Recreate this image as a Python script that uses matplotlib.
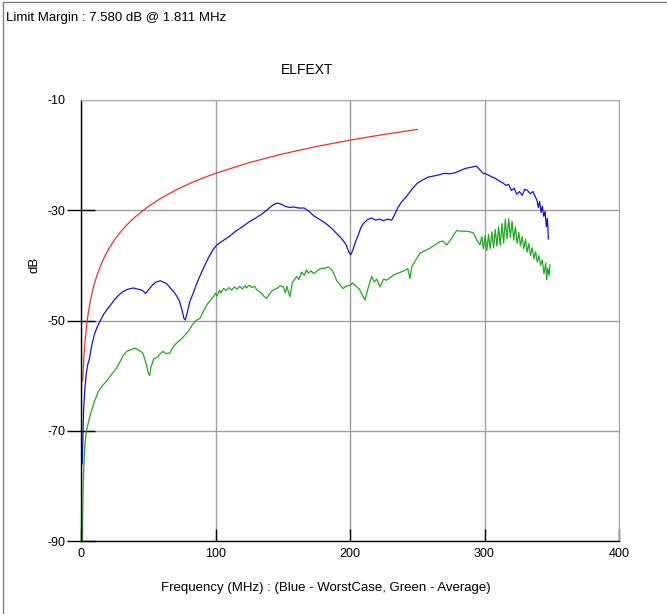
import matplotlib
matplotlib.use("Agg")
import matplotlib.pyplot as plt
from matplotlib.lines import Line2D

plt.rcParams['font.family'] = ['Liberation Sans', 'DejaVu Sans']
plt.rcParams['axes.unicode_minus'] = False

# Limit line (red)
limit_f = [1.3, 1.6, 2, 2.5, 3, 4, 5, 6, 7, 8.5, 10, 12, 15, 18, 20, 25, 30, 35, 40, 50,
           60, 70, 80, 90, 100, 125, 150, 175, 200, 225, 250]
limit_db = [-61.0, -59.2, -57.28, -55.34, -53.76, -51.26, -49.32, -47.74, -46.40,
            -44.71, -43.3, -41.72, -39.78, -38.19, -37.28, -35.34, -33.76, -32.42, -31.26,
            -29.32, -27.74, -26.40, -25.24, -24.22, -23.3, -21.36, -19.78, -18.44, -17.28,
            -16.26, -15.34]

# WorstCase (blue)
worst_f = [1.0, 1.5, 2, 3, 4, 5, 6.2, 8, 10, 12, 14, 17, 20, 22, 25, 28, 31, 34, 37, 39, 42,
           44, 46, 48, 50, 53, 56, 59, 62, 64, 66, 69, 71, 73, 75, 76.5, 77.5, 79, 81, 83.5,
           86, 89, 92, 95, 98, 101, 105, 110, 115, 120, 125, 130, 135, 140, 143, 146, 149,
           152, 155, 158, 162, 166, 170, 173, 177, 182, 186, 190, 194, 197, 199, 200.5, 202,
           204, 206, 208, 210, 213, 216, 219, 222, 225, 228, 231, 233, 235, 238, 242, 246,
           250, 254, 258, 262, 266, 270, 274, 278, 282, 286, 290, 294, 296, 299, 302, 305,
           308, 311, 314, 316, 318, 320, 322, 324, 326, 328, 330, 332, 334, 336, 337.5, 339,
           340, 341, 342, 343, 344, 345, 346, 346.8, 347.5]
worst_db = [-76, -70, -66, -62, -59.5, -58, -57, -54.5, -52.5, -51.2, -50.2, -48.8, -47.8,
            -47.2, -46.2, -45.4, -44.8, -44.4, -44.2, -44.1, -44.3, -44.4, -44.6, -45.1, -44.5,
            -43.6, -43.0, -42.8, -43.1, -43.4, -44.0, -44.8, -45.5, -46.4, -48.0, -49.6, -49.9,
            -48.6, -46.5, -45.0, -43.3, -41.6, -40.0, -38.5, -37.2, -36.3, -35.6, -34.8, -33.8,
            -33.0, -32.1, -31.4, -30.6, -29.6, -29.0, -28.7, -28.9, -29.3, -29.5, -29.4, -29.6,
            -29.6, -30.3, -31.0, -31.6, -32.4, -33.2, -34.2, -35.2, -36.2, -37.5, -38.1, -37.3,
            -35.8, -34.6, -33.2, -32.4, -31.7, -31.4, -31.8, -31.6, -31.9, -31.6, -31.8, -30.9,
            -29.8, -28.6, -27.5, -26.2, -25.1, -24.5, -24.0, -23.8, -23.6, -23.3, -23.4, -23.2,
            -22.8, -22.4, -22.2, -22.0, -22.5, -23.3, -23.5, -23.9, -24.2, -24.7, -25.1, -25.5,
            -25.3, -26.4, -26.0, -27.1, -26.6, -27.3, -26.2, -26.4, -27.0, -26.6, -27.4, -28.2,
            -29.5, -28.4, -30.4, -29.3, -31.1, -30.2, -33.0, -31.5, -35.2]

# Average (green)
avg_f = [1.0, 1.5, 2, 3, 4, 5.4, 7, 8, 10.4, 13, 16, 19, 22, 26, 29, 31.5, 34, 37, 40, 43, 46,
         48, 50, 51, 52, 54, 57, 59, 61, 63, 66, 68, 71, 74, 76, 78.6, 81, 83, 86, 88.5, 91, 94,
         96, 98.4, 100, 101, 103, 104, 106, 108, 110, 112, 114, 116, 118, 120, 122, 123, 125,
         127, 129, 130.6, 134, 136, 138, 140, 142,
         145.5, 148, 150.4, 152, 153, 155.4, 157, 160.3, 162, 164, 166, 167.7, 169, 171, 173,
         175, 178, 181.4, 184,
         186.4, 188, 190, 192.5, 195, 197, 200, 202, 205, 207, 208.6, 211.2, 213, 216.1, 218,
         220, 222.3, 225, 227.2, 230, 232, 234.7, 237, 240, 243, 244.5, 246, 249, 252, 256,
         259.5, 263, 266.9, 269, 271.9, 274, 275.6, 277.5, 279.3, 283, 286.7, 289, 291.7, 293,
         294.2, 296.7, 298, 299.2, 300.5, 301.7, 303, 304.2, 305.5, 306.7, 308, 309.2, 310.5,
         311.7, 313, 314.2, 315.5, 316.7, 318, 319.2, 320.5, 321.7, 323, 324.2, 325.5, 326.7,
         328, 329.2, 330.5, 331.7, 333, 334.2, 335.5, 336.7, 338, 339.2, 340.5, 341.7, 343,
         344.2, 345.5, 346.2, 347, 348, 348.7]
avg_db = [-90, -82, -77, -72.3, -70, -68.6, -67, -66.2, -64.4, -62.8, -61.8, -61.0, -60.0,
          -58.8, -57.5, -56.3, -55.6, -55.3, -55.0, -55.4, -55.9, -57.5, -59.5, -60.0, -58.5,
          -57.0, -56.6, -56.0, -55.6, -56.0, -55.9, -55.0, -54.1, -53.5, -53.0, -52.3, -51.5,
          -50.7, -49.9, -49.6, -48.3, -47.0, -46.4, -45.7, -45.0, -45.6, -44.5, -45.0, -44.2,
          -44.6, -44.0, -44.5, -43.9, -44.3, -43.8, -44.3, -43.7, -44.1, -43.6, -44.0, -43.8,
          -44.4, -45.0, -45.6, -46.0, -45.2, -44.6, -44.2, -43.7, -43.9,
          -45.0, -43.8, -45.7, -43.2, -42.0, -42.6, -41.2, -41.8, -40.8, -41.4, -41.0, -41.5,
          -41.1, -40.6, -40.5, -40.3,
          -40.8, -41.5, -42.7, -43.5, -44.2, -43.8, -43.6, -43.2, -43.9, -44.3, -45.1, -46.3,
          -44.5, -42.0, -43.0, -42.5, -43.9, -42.5, -42.7, -42.2, -41.8, -41.5, -41.3, -41.0,
          -40.6, -42.4, -40.2, -39.0, -37.8, -37.3, -36.9, -36.3, -35.7, -35.6, -36.3, -35.6,
          -35.1, -34.3, -33.7, -33.8, -33.8, -33.9, -34.1, -34.7, -35.4, -36.3, -34.8, -37.0,
          -34.6, -37.3, -34.4, -37.0, -33.9, -36.8, -33.5, -36.5, -33.0, -36.4, -32.4, -36.0,
          -31.6, -35.2, -31.5, -35.0, -32.0, -35.4, -33.0, -36.0, -34.0, -36.5, -34.8, -37.0,
          -35.3, -37.6, -36.0, -38.2, -36.8, -38.8, -37.5, -39.4, -38.2, -40.0, -39.0, -41.5,
          -39.6, -42.6, -40.5, -41.8, -39.9]

x_ticks = [0, 100, 200, 300, 400]
y_ticks = [-90, -70, -50, -30, -10]

fig = plt.figure(figsize=(6.67, 6.14), dpi=100)
ax = fig.add_axes([81 / 667, 1 - 541 / 614, 538 / 667, 441 / 614])

ax.plot(limit_f, limit_db, color='#ee3030', lw=0.9)
ax.plot(worst_f, worst_db, color='#1414d8', lw=0.9)
ax.plot(avg_f, avg_db, color='#22a822', lw=0.9)

ax.set_xlim(0, 400)
ax.set_ylim(-90, -10)
ax.set_xticks(x_ticks)
ax.set_yticks(y_ticks)
ax.set_xticklabels([str(v) for v in x_ticks])
ax.set_yticklabels([str(v) for v in y_ticks])
ax.grid(True, color='#a0a0a0', lw=1)
ax.set_axisbelow(True)

for s in ['top', 'right']:
    ax.spines[s].set_color('#a8a8a8')
for s in ['left', 'bottom']:
    ax.spines[s].set_color('black')
    ax.spines[s].set_linewidth(1)

ax.tick_params(axis='y', direction='inout', length=20, width=1, labelsize=9, pad=1,
               colors='black')
ax.tick_params(axis='x', direction='in', length=9, width=1, labelsize=9, pad=5,
               colors='black')
# no tick mark on the top edge (-10), where the frame is grey
ax.yaxis.get_major_ticks()[-1].tick1line.set_visible(False)

ax.set_ylabel('dB', fontsize=9.5)
ax.yaxis.set_label_coords(-0.076, 0.626)
ax.set_xlabel('Frequency (MHz) : (Blue - WorstCase, Green - Average)', fontsize=9.5)
ax.xaxis.set_label_coords(0.455, -0.093)

ax.text(0.421, (541 - 70) / 441, 'ELFEXT', transform=ax.transAxes, ha='center',
        va='center', fontsize=10)
fig.text(6 / 667, 1 - 18 / 614, 'Limit Margin : 7.580 dB @ 1.811 MHz', ha='left',
         va='center', fontsize=9.5)

# outer frame (top and left edges visible)
fig.add_artist(Line2D([2.5 / 667, 1.0], [1 - 1.5 / 614, 1 - 1.5 / 614],
                      transform=fig.transFigure, color='#808080', lw=1))
fig.add_artist(Line2D([2.5 / 667, 2.5 / 667], [0, 1 - 1.5 / 614],
                      transform=fig.transFigure, color='#808080', lw=1))

fig.savefig('out.png', dpi=100)
